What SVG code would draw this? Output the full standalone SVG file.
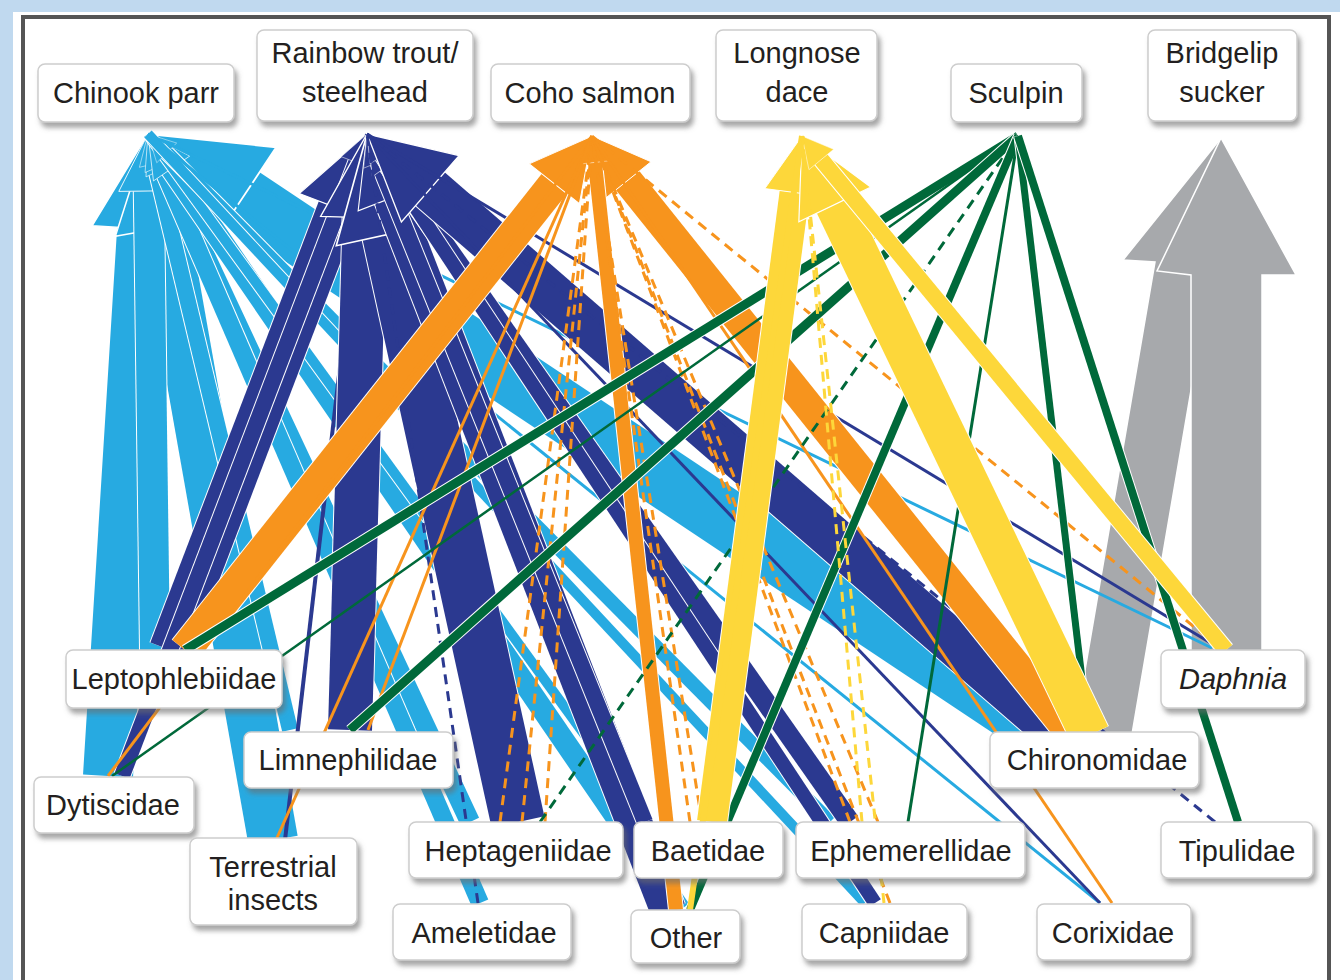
<svg xmlns="http://www.w3.org/2000/svg" width="1340" height="980" viewBox="0 0 1340 980">
<style>
.h{stroke:#fff;fill:none}
.lb{stroke:#27aae1}.db{stroke:#2b3990}.or{stroke:#f7941d}.ye{stroke:#fdd73a}.gr{stroke:#00693a}
.d{stroke-dasharray:10 7}
.box{fill:#fff;stroke:#cdcdcd;stroke-width:1.5;filter:url(#sh)}
text{font-family:"Liberation Sans",Arial,sans-serif;font-size:29px;fill:#231f20;text-anchor:middle}
.gy{fill:#a7a9ac;stroke:#fff;stroke-width:1.5}
</style>
<defs>
<filter id="sh" x="-10%" y="-10%" width="130%" height="140%"><feDropShadow dx="3" dy="5" stdDeviation="2.5" flood-color="#6d6d6d" flood-opacity="0.6"/></filter>
<marker id="mlb" markerUnits="strokeWidth" orient="auto" markerWidth="2" markerHeight="2" overflow="visible"><path d="M0,-1L1.9,0L0,1Z" fill="#27aae1" stroke="#fff" stroke-width="0.03"/></marker>
<marker id="mdb" markerUnits="strokeWidth" orient="auto" markerWidth="2" markerHeight="2" overflow="visible"><path d="M0,-1L1.9,0L0,1Z" fill="#2b3990" stroke="#fff" stroke-width="0.03"/></marker>
<marker id="mor" markerUnits="strokeWidth" orient="auto" markerWidth="2" markerHeight="2" overflow="visible"><path d="M0,-1L1.9,0L0,1Z" fill="#f7941d" stroke="#fff" stroke-width="0.03"/></marker>
<marker id="mye" markerUnits="strokeWidth" orient="auto" markerWidth="2" markerHeight="2" overflow="visible"><path d="M0,-1L1.9,0L0,1Z" fill="#fdd73a" stroke="#fff" stroke-width="0.03"/></marker>
</defs>
<rect width="1340" height="980" fill="#c0d9ef"/>
<rect x="13" y="12" width="1327" height="968" fill="#fff"/>
<rect x="23" y="17" width="1306" height="1000" fill="#fff" stroke="#555" stroke-width="4"/>

<g id="connectors">
<g id="edges-bridgelip-sucker">
<polygon class="gy" points="1073,740 1155,262 1123,260 1221,138 1245,266 1213,262 1131,740"/>
<polygon class="gy" points="1191,660 1191,275 1157,271 1221,138 1296,275 1262,275 1262,660"/>
</g>
<g id="edges-chinook">
<line class="h" x1="108" y1="776" x2="142.1" y2="228.8" stroke-width="52"/>
<line class="lb" x1="108" y1="776" x2="142.1" y2="228.8" stroke-width="50" marker-end="url(#mlb)"/>
<line class="h" x1="273" y1="840" x2="164.6" y2="227.5" stroke-width="52"/>
<line class="lb" x1="273" y1="840" x2="164.6" y2="227.5" stroke-width="50" marker-end="url(#mlb)"/>
<line class="h" x1="1050" y1="735" x2="242.9" y2="197.2" stroke-width="62"/>
<line class="lb" x1="1050" y1="735" x2="242.9" y2="197.2" stroke-width="60" marker-end="url(#mlb)"/>
<line class="h" x1="155" y1="650" x2="148.8" y2="191" stroke-width="32"/>
<line class="lb" x1="155" y1="650" x2="148.8" y2="191" stroke-width="30" marker-end="url(#mlb)"/>
<line class="h" x1="290" y1="730" x2="155" y2="163.6" stroke-width="18"/>
<line class="lb" x1="290" y1="730" x2="155" y2="163.6" stroke-width="16" marker-end="url(#mlb)"/>
<line class="h" x1="470" y1="822" x2="164.1" y2="168.4" stroke-width="22"/>
<line class="lb" x1="470" y1="822" x2="164.1" y2="168.4" stroke-width="20" marker-end="url(#mlb)"/>
<line class="h" x1="480" y1="903" x2="161.6" y2="165.4" stroke-width="20"/>
<line class="lb" x1="480" y1="903" x2="161.6" y2="165.4" stroke-width="18" marker-end="url(#mlb)"/>
<line class="h" x1="680" y1="910" x2="171.6" y2="168.5" stroke-width="24"/>
<line class="lb" x1="680" y1="910" x2="171.6" y2="168.5" stroke-width="22" marker-end="url(#mlb)"/>
<line class="h" x1="648" y1="822" x2="148" y2="134" stroke-width="12"/>
<line class="lb" x1="648" y1="822" x2="148" y2="134" stroke-width="10"/>
<line class="h" x1="830" y1="822" x2="166.7" y2="152.9" stroke-width="16"/>
<line class="lb" x1="830" y1="822" x2="166.7" y2="152.9" stroke-width="14" marker-end="url(#mlb)"/>
<line class="h" x1="865" y1="903" x2="148" y2="134" stroke-width="12"/>
<line class="lb" x1="865" y1="903" x2="148" y2="134" stroke-width="10"/>
<line class="lb" x1="1100" y1="903" x2="148" y2="134" stroke-width="3"/>
<line class="lb" x1="1212" y1="648" x2="148" y2="134" stroke-width="3"/>
</g>
<g id="edges-rainbow-trout">
<line class="h" x1="170" y1="650" x2="338.5" y2="208.6" stroke-width="44"/>
<line class="db" x1="170" y1="650" x2="338.5" y2="208.6" stroke-width="42" marker-end="url(#mdb)"/>
<line class="h" x1="122" y1="776" x2="356.2" y2="162.4" stroke-width="18"/>
<line class="db" x1="122" y1="776" x2="356.2" y2="162.4" stroke-width="16" marker-end="url(#mdb)"/>
<line class="db" x1="285" y1="840" x2="367" y2="134" stroke-width="4"/>
<line class="h" x1="350" y1="730" x2="364.6" y2="217.6" stroke-width="46"/>
<line class="db" x1="350" y1="730" x2="364.6" y2="217.6" stroke-width="44" marker-end="url(#mdb)"/>
<line class="h" x1="518" y1="822" x2="389" y2="234.2" stroke-width="56"/>
<line class="db" x1="518" y1="822" x2="389" y2="234.2" stroke-width="54" marker-end="url(#mdb)"/>
<line class="h" x1="668" y1="910" x2="391.7" y2="197.8" stroke-width="38"/>
<line class="db" x1="668" y1="910" x2="391.7" y2="197.8" stroke-width="36" marker-end="url(#mdb)"/>
<line class="h" x1="645" y1="822" x2="378.4" y2="162.2" stroke-width="18"/>
<line class="db" x1="645" y1="822" x2="378.4" y2="162.2" stroke-width="16" marker-end="url(#mdb)"/>
<line class="h" x1="850" y1="822" x2="388.8" y2="165.1" stroke-width="22"/>
<line class="db" x1="850" y1="822" x2="388.8" y2="165.1" stroke-width="20" marker-end="url(#mdb)"/>
<line class="h" x1="875" y1="903" x2="381.7" y2="156.2" stroke-width="16"/>
<line class="db" x1="875" y1="903" x2="381.7" y2="156.2" stroke-width="14" marker-end="url(#mdb)"/>
<line class="h" x1="1060" y1="735" x2="430.2" y2="188.8" stroke-width="46"/>
<line class="db" x1="1060" y1="735" x2="430.2" y2="188.8" stroke-width="44" marker-end="url(#mdb)"/>
<line class="db d" x1="478" y1="903" x2="367" y2="134" stroke-width="3"/>
<line class="db" x1="1100" y1="903" x2="367" y2="134" stroke-width="3"/>
<line class="db" x1="1214" y1="645" x2="367" y2="134" stroke-width="3"/>
<line class="db d" x1="1215" y1="822" x2="367" y2="134" stroke-width="3"/>
</g>
<g id="edges-coho">
<line class="h" x1="185" y1="650" x2="554.3" y2="183.7" stroke-width="34"/>
<line class="or" x1="185" y1="650" x2="554.3" y2="183.7" stroke-width="32" marker-end="url(#mor)"/>
<line class="h" x1="1072" y1="735" x2="627.6" y2="180.5" stroke-width="32"/>
<line class="or" x1="1072" y1="735" x2="627.6" y2="180.5" stroke-width="30" marker-end="url(#mor)"/>
<line class="h" x1="676" y1="910" x2="594.9" y2="162.4" stroke-width="16"/>
<line class="or" x1="676" y1="910" x2="594.9" y2="162.4" stroke-width="14" marker-end="url(#mor)"/>
<line class="or" x1="108" y1="776" x2="592" y2="136" stroke-width="3"/>
<line class="or" x1="276" y1="840" x2="592" y2="136" stroke-width="3"/>
<line class="or" x1="368" y1="730" x2="592" y2="136" stroke-width="3"/>
<line class="or d" x1="500" y1="822" x2="592" y2="136" stroke-width="3"/>
<line class="or d" x1="522" y1="822" x2="592" y2="136" stroke-width="3"/>
<line class="or d" x1="545" y1="822" x2="592" y2="136" stroke-width="3"/>
<line class="or d" x1="690" y1="822" x2="592" y2="136" stroke-width="3"/>
<line class="or d" x1="702" y1="822" x2="592" y2="136" stroke-width="3"/>
<line class="or d" x1="850" y1="822" x2="592" y2="136" stroke-width="3"/>
<line class="or d" x1="878" y1="822" x2="592" y2="136" stroke-width="3"/>
<line class="or d" x1="890" y1="903" x2="592" y2="136" stroke-width="3"/>
<line class="or" x1="1112" y1="903" x2="592" y2="136" stroke-width="3"/>
<line class="or d" x1="1220" y1="648" x2="592" y2="136" stroke-width="3"/>
</g>
<g id="edges-sculpin">
<line class="h" x1="185" y1="650" x2="1018" y2="136" stroke-width="11"/>
<line class="gr" x1="185" y1="650" x2="1018" y2="136" stroke-width="9"/>
<line class="gr" x1="112" y1="776" x2="1018" y2="136" stroke-width="2.5"/>
<line class="h" x1="350" y1="730" x2="1018" y2="136" stroke-width="11"/>
<line class="gr" x1="350" y1="730" x2="1018" y2="136" stroke-width="9"/>
<line class="gr d" x1="540" y1="822" x2="1018" y2="136" stroke-width="3"/>
<line class="h" x1="690" y1="910" x2="1018" y2="136" stroke-width="10"/>
<line class="gr" x1="690" y1="910" x2="1018" y2="136" stroke-width="8"/>
<line class="gr" x1="908" y1="822" x2="1018" y2="136" stroke-width="3"/>
<line class="h" x1="1088" y1="730" x2="1018" y2="136" stroke-width="9"/>
<line class="gr" x1="1088" y1="730" x2="1018" y2="136" stroke-width="7"/>
<line class="h" x1="1238" y1="822" x2="1018" y2="136" stroke-width="10"/>
<line class="gr" x1="1238" y1="822" x2="1018" y2="136" stroke-width="8"/>
</g>
<g id="edges-longnose-dace">
<line class="h" x1="712" y1="822" x2="794.6" y2="192.5" stroke-width="32"/>
<line class="ye" x1="712" y1="822" x2="794.6" y2="192.5" stroke-width="30" marker-end="url(#mye)"/>
<line class="h" x1="1090" y1="735" x2="834.9" y2="204.5" stroke-width="42"/>
<line class="ye" x1="1090" y1="735" x2="834.9" y2="204.5" stroke-width="40" marker-end="url(#mye)"/>
<line class="h" x1="1226" y1="650" x2="821.3" y2="159.5" stroke-width="18"/>
<line class="ye" x1="1226" y1="650" x2="821.3" y2="159.5" stroke-width="16" marker-end="url(#mye)"/>
<line class="ye" x1="690" y1="910" x2="802" y2="136" stroke-width="6"/>
<line class="ye d" x1="862" y1="822" x2="802" y2="136" stroke-width="3"/>
<line class="ye d" x1="884" y1="903" x2="802" y2="136" stroke-width="3"/>
</g>
</g>

<g id="n-chinook"><rect class="box" x="38" y="64" width="196" height="58" rx="7"/><text x="136" y="103">Chinook parr</text></g>
<g id="n-rainbow"><rect class="box" x="257" y="30" width="216" height="91" rx="7"/><text x="365" y="63">Rainbow trout/</text><text x="365" y="102">steelhead</text></g>
<g id="n-coho"><rect class="box" x="491" y="64" width="199" height="58" rx="7"/><text x="590" y="103">Coho salmon</text></g>
<g id="n-dace"><rect class="box" x="716" y="30" width="161" height="91" rx="7"/><text x="797" y="63">Longnose</text><text x="797" y="102">dace</text></g>
<g id="n-sculpin"><rect class="box" x="951" y="64" width="131" height="58" rx="7"/><text x="1016" y="103">Sculpin</text></g>
<g id="n-sucker"><rect class="box" x="1148" y="30" width="149" height="91" rx="7"/><text x="1222" y="63">Bridgelip</text><text x="1222" y="102">sucker</text></g>

<g id="n-leptophlebiidae"><rect class="box" x="66" y="650" width="216" height="58" rx="7"/><text x="174" y="689">Leptophlebiidae</text></g>
<g id="n-limnephilidae"><rect class="box" x="244" y="732" width="209" height="56" rx="7"/><text x="348" y="770">Limnephilidae</text></g>
<g id="n-dytiscidae"><rect class="box" x="34" y="777" width="160" height="56" rx="7"/><text x="113" y="815">Dytiscidae</text></g>
<g id="n-terrestrial"><rect class="box" x="190" y="838" width="167" height="87" rx="7"/><text x="273" y="877">Terrestrial</text><text x="273" y="910">insects</text></g>
<g id="n-heptageniidae"><rect class="box" x="409" y="822" width="214" height="56" rx="7"/><text x="518" y="861">Heptageniidae</text></g>
<g id="n-ameletidae"><rect class="box" x="393" y="904" width="178" height="56" rx="7"/><text x="484" y="943">Ameletidae</text></g>
<g id="n-baetidae"><rect class="box" x="634" y="822" width="149" height="56" rx="7"/><text x="708" y="861">Baetidae</text></g>
<g id="n-other"><rect class="box" x="631" y="910" width="109" height="53" rx="7"/><text x="686" y="948">Other</text></g>
<g id="n-ephemerellidae"><rect class="box" x="796" y="822" width="229" height="56" rx="7"/><text x="911" y="861">Ephemerellidae</text></g>
<g id="n-capniidae"><rect class="box" x="802" y="904" width="165" height="56" rx="7"/><text x="884" y="943">Capniidae</text></g>
<g id="n-corixidae"><rect class="box" x="1037" y="904" width="154" height="56" rx="7"/><text x="1113" y="943">Corixidae</text></g>
<g id="n-chironomidae"><rect class="box" x="990" y="732" width="209" height="56" rx="7"/><text x="1097" y="770">Chironomidae</text></g>
<g id="n-daphnia"><rect class="box" x="1161" y="650" width="144" height="58" rx="7"/><text x="1233" y="689" font-style="italic">Daphnia</text></g>
<g id="n-tipulidae"><rect class="box" x="1161" y="822" width="152" height="56" rx="7"/><text x="1237" y="861">Tipulidae</text></g>
</svg>
